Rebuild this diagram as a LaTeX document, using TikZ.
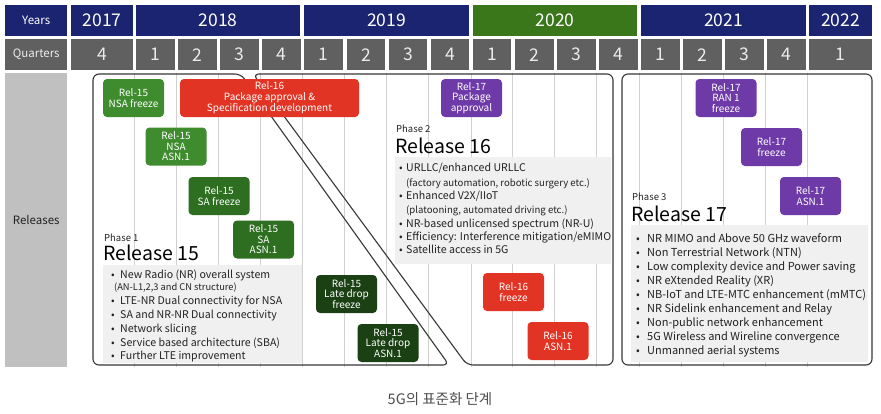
\documentclass[tikz,border=0pt]{standalone}
\usepackage{fontspec}
\setmainfont{Noto Sans CJK KR}
\definecolor{navy}{RGB}{27,36,112}
\definecolor{hgreen}{RGB}{58,118,26}
\definecolor{qgray}{RGB}{96,96,96}
\definecolor{rgray}{RGB}{192,192,192}
\definecolor{gA}{RGB}{62,140,46}
\definecolor{gB}{RGB}{46,110,32}
\definecolor{gC}{RGB}{27,64,20}
\definecolor{msred}{RGB}{226,52,36}
\definecolor{mspurple}{RGB}{110,58,168}
\definecolor{panelgray}{RGB}{240,240,240}
\definecolor{gridgray}{RGB}{208,208,208}
\definecolor{framegray}{RGB}{55,55,55}
\definecolor{txt}{RGB}{34,34,34}
\newcommand{\bline}[6]{%
  \node[anchor=base, text=txt, inner sep=0pt, font=\fontsize{#5}{#5}\selectfont] (#1b) at (#2,#4) {\textbullet};
  \node[anchor=base west, text=txt, inner sep=0pt, font=\fontsize{#5}{#5}\selectfont] (#1) at (#3,#4) {#6};}
\newcommand{\sline}[5]{%
  \node[anchor=base west, text=txt, inner sep=0pt, font=\fontsize{#4}{#4}\selectfont] (#1) at (#2,#3) {#5};}
\begin{document}
\begin{tikzpicture}[x=1pt,y=-1pt,
  hdr/.style={fill=navy, text=white, inner sep=0pt, minimum height=31, anchor=north west, font=\fontsize{17.5}{17.5}\selectfont},
  hdrlab/.style={hdr, font=\fontsize{11.5}{11.5}\selectfont},
  qbox/.style={fill=qgray, text=white!92!black, inner sep=0pt, minimum height=31, anchor=north west, font=\fontsize{17.5}{17.5}\selectfont},
  qlab/.style={qbox, font=\fontsize{11.5}{11.5}\selectfont},
  grid/.style={draw=gridgray, line width=0.8pt},
  frame/.style={draw=framegray, line width=1.1pt, rounded corners=6pt},
  panel/.style={fill=panelgray},
  ms/.style={rounded corners=4pt, text=white, align=center, inner sep=0pt, minimum width=61, minimum height=38, font=\fontsize{10}{10.5}\selectfont},
  phase/.style={anchor=base west, text=txt, inner sep=0pt, font=\fontsize{9.5}{9.5}\selectfont},
  rel/.style={anchor=base west, text=black, inner sep=0pt, font=\fontsize{19.5}{19.5}\selectfont}
]
\useasboundingbox[fill=white] (0,0) rectangle (881,413);

% Years row
\node[hdrlab, minimum width=62] (yl) at (5,5) {Years};
\node[hdr, minimum width=62] (y17) at (71,5) {2017};
\node[hdr, minimum width=164] (y18) at (136,5) {2018};
\node[hdr, minimum width=165] (y19) at (304,5) {2019};
\node[hdr, fill=hgreen, minimum width=164] (y20) at (473,5) {2020};
\node[hdr, minimum width=165] (y21) at (641,5) {2021};
\node[hdr, minimum width=63] (y22) at (809,5) {2022};

% Quarters row
\node[qlab, minimum width=62] (ql) at (5,39) {Quarters};
\node[qbox, minimum width=62] (q17) at (71,39) {4};
\foreach \k/\q in {0/1,1/2,2/3,3/4,4/1,5/2,6/3,7/4,8/1,9/2,10/3,11/4,12/1,13/2,14/3,15/4}{
  \pgfmathsetmacro{\qx}{136+42.07*\k}
  \node[qbox, minimum width=38.7] (q\k) at (\qx,39) {\q};
}
\node[qbox, minimum width=63] (q22) at (809,39) {1};

% Releases column
\node[fill=rgray, minimum width=62, minimum height=294, anchor=north west, inner sep=0pt, text=txt, font=\fontsize{11.5}{11.5}\selectfont] (rl) at (5,73) {Releases};

% grid lines
\foreach \x in {134.5,176.5,218.5,260,302,344,386,428,471,512.5,554.5,596.5,639,681,723,765,807.5}{
  \draw[grid] (\x,73) -- (\x,367);
}

% panels
\fill[panel] (103,265) rectangle (302,363);
\fill[panel] (395,157) rectangle (611,264);
\fill[panel] (631,225) rectangle (868,362);

% frames
\draw[frame] (93,74) -- (241,74) -- (449,365) -- (93,365) -- cycle;
\draw[frame] (253,74) -- (613,74) -- (613,365) -- (467,365) -- cycle;
\draw[frame] (622,74) rectangle (872,365);

% milestones
\node[ms, fill=gA] (m1) at (133.5,98) {Rel-15\\NSA freeze};
\node[ms, fill=msred, minimum width=179] (m2) at (269.5,98) {Rel-16\\Package approval \&\\Specification development};
\node[ms, fill=mspurple] (m3) at (471.5,98) {Rel-17\\Package\\approval};
\node[ms, fill=gA] (m4) at (176,146.5) {Rel-15\\NSA\\ASN.1};
\node[ms, fill=gB] (m5) at (219,196) {Rel-15\\SA freeze};
\node[ms, fill=gB] (m6) at (263.5,239.5) {Rel-15\\SA\\ASN.1};
\node[ms, fill=gC] (m7) at (346.5,294) {Rel-15\\Late drop\\freeze};
\node[ms, fill=gC] (m8) at (388,343) {Rel-15\\Late drop\\ASN.1};
\node[ms, fill=msred] (m9) at (513.5,292) {Rel-16\\freeze};
\node[ms, fill=msred] (m10) at (558,341) {Rel-16\\ASN.1};
\node[ms, fill=mspurple] (m11) at (726,98) {Rel-17\\RAN 1\\freeze};
\node[ms, fill=mspurple] (m12) at (771.5,147) {Rel-17\\freeze};
\node[ms, fill=mspurple] (m13) at (810.5,196) {Rel-17\\ASN.1};

% Release 15
\node[phase] (p1) at (104,241.5) {Phase 1};
\node[rel] (r15) at (103,260.5) {Release 15};
\bline{a1}{113}{120}{278.5}{10.6}{New Radio (NR) overall system}
\sline{a2}{114}{290}{9.3}{(AN-L1,2,3 and CN structure)}
\bline{a3}{113}{120}{304.5}{10.6}{LTE-NR Dual connectivity for NSA}
\bline{a4}{113}{120}{318.5}{10.6}{SA and NR-NR Dual connectivity}
\bline{a5}{113}{120}{332.5}{10.6}{Network slicing}
\bline{a6}{113}{120}{346.5}{10.6}{Service based architecture (SBA)}
\bline{a7}{113}{120}{359.5}{10.6}{Further LTE improvement}

% Release 16
\node[phase] (p2) at (396,132.5) {Phase 2};
\node[rel] (r16) at (395,153) {Release 16};
\bline{b1}{401}{406}{171.5}{10.6}{URLLC/enhanced URLLC}
\sline{b2}{406}{186.5}{9.6}{(factory automation, robotic surgery etc.)}
\bline{b3}{401}{406}{199.5}{10.6}{Enhanced V2X/IIoT}
\sline{b4}{406}{213.5}{9.6}{(platooning, automated driving etc.)}
\bline{b5}{401}{406}{227.5}{10.6}{NR-based unlicensed spectrum (NR-U)}
\bline{b6}{401}{406}{240.5}{10.6}{Efficiency: Interference mitigation/eMIMO}
\bline{b7}{401}{406}{253.5}{10.6}{Satellite access in 5G}

% Release 17
\node[phase] (p3) at (632,200.5) {Phase 3};
\node[rel] (r17) at (631,221) {Release 17};
\bline{c1}{638}{647}{242}{11}{NR MIMO and Above 50 GHz waveform}
\bline{c2}{638}{647}{256.5}{11}{Non Terrestrial Network (NTN)}
\bline{c3}{638}{647}{270.5}{11}{Low complexity device and Power saving}
\bline{c4}{638}{647}{284.5}{11}{NR eXtended Reality (XR)}
\bline{c5}{638}{647}{298}{11}{NB-IoT and LTE-MTC enhancement (mMTC)}
\bline{c6}{638}{647}{312}{11}{NR Sidelink enhancement and Relay}
\bline{c7}{638}{647}{326}{11}{Non-public network enhancement}
\bline{c8}{638}{647}{340.5}{11}{5G Wireless and Wireline convergence}
\bline{c9}{638}{647}{354.5}{11}{Unmanned aerial systems}

% caption
\node[text=txt!80!white, inner sep=0pt, font=\fontsize{14.5}{14.5}\selectfont] (cap) at (440,399) {5G의 표준화 단계};
\end{tikzpicture}
\end{document}
